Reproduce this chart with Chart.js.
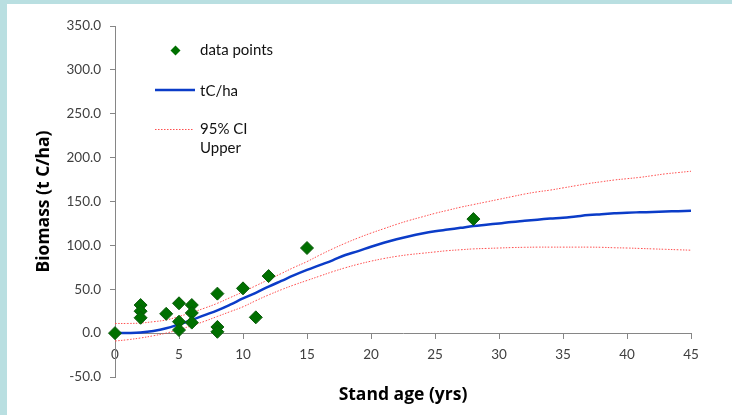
<!DOCTYPE html>
<html>
<head>
<meta charset="utf-8">
<script src="https://cdn.jsdelivr.net/npm/chart.js@4.4.1/dist/chart.umd.min.js"></script>
<style>
  html, body { margin: 0; padding: 0; background: #b9dfe1; }
  #wrap { position: absolute; left: 7px; top: 4px; width: 725px; height: 411px; background: #fff; }
</style>
</head>
<body>
<div id="wrap"><canvas id="chart" width="725" height="411"></canvas></div>
<script>
// observed plots
const pointAges    = [0, 2, 2, 2, 4, 5, 5, 5, 6, 6, 6, 8, 8, 8, 10, 11, 12, 15, 28];
const pointBiomass = [0, 32, 25, 17.5, 22, 34, 13, 3.5, 32, 23, 12, 45, 7, 1.5, 51, 18, 65, 97, 130];

// fitted curve and its confidence band, one value per year of age
const curveAges = [0, 1, 2, 3, 4, 5, 6, 7, 8, 9, 10, 11, 12, 13, 14, 15, 16, 17, 18, 19, 20, 21, 22,
  23, 24, 25, 26, 27, 28, 29, 30, 31, 32, 33, 34, 35, 36, 37, 38, 39, 40, 41, 42, 43, 44, 45];
const tcPerHa = [0, 0.2, 0.8, 2.5, 5.5, 10, 15, 20.5, 26, 32.5, 39.5, 46, 53, 59.5, 66, 72, 77.5, 83,
  89, 93.5, 98.5, 103, 107, 110.5, 113.5, 116, 118, 120, 122, 123.5, 125, 126.7, 128, 129.3, 130.5,
  131.5, 133, 134.5, 135.5, 136.5, 137.3, 137.7, 138, 138.5, 139, 139.5];
const ciUpper = [11, 11, 11.5, 13, 15, 19, 23.5, 28.5, 34, 40.5, 47, 54, 61, 68, 75, 81.5, 89, 96,
  102.5, 108.5, 114, 119, 124, 128.5, 132.5, 136.5, 140, 143.5, 146.5, 149.5, 152.5, 155.5, 158.5,
  161, 163, 165.5, 168, 170.5, 172.5, 174.5, 176, 177.5, 179.5, 181.5, 183, 184.5];
const ciLower = [-9, -7.5, -5.5, -3, 0, 4, 8.5, 13.5, 19, 24.5, 30, 37, 43.5, 49.5, 55, 60, 65, 70,
  74.5, 78.5, 82, 85, 87.5, 89.5, 91, 92.5, 94, 95, 96, 96.5, 97, 97.5, 97.8, 98, 98, 98, 98, 98,
  97.8, 97.3, 97, 96.5, 96, 95.5, 95, 94.5];

const xTitle = 'Stand age (yrs)';
const yTitle = 'Biomass (t C/ha)';

const GREEN = '#007000';
const BLUE = '#0b3cc8';
const RED = 'rgba(255, 70, 70, 0.95)';
const AXIS = '#868686';
const TICK_TEXT = '#404040';

function toXY(xs, ys) {
  return xs.map((x, i) => ({ x: x, y: ys[i] }));
}

// titles and the in-plot legend are drawn by hand to sit where the original has them
const decorations = {
  id: 'decorations',
  afterDraw(chart) {
    const ctx = chart.ctx;
    const area = chart.chartArea;
    ctx.save();
    ctx.fillStyle = '#000';
    ctx.font = 'bold 17.5px "Open Sans"';
    ctx.textAlign = 'center';
    ctx.textBaseline = 'middle';
    ctx.fillText(xTitle, (area.left + area.right) / 2, 391);
    ctx.translate(37, (area.top + area.bottom) / 2);
    ctx.rotate(-Math.PI / 2);
    ctx.fillText(yTitle, 0, 0);
    ctx.restore();

    // legend
    ctx.save();
    ctx.font = '15px Lato';
    ctx.textAlign = 'left';
    ctx.textBaseline = 'middle';

    ctx.fillStyle = GREEN;
    ctx.beginPath();
    ctx.moveTo(168.5, 41.5);
    ctx.lineTo(173.5, 46.5);
    ctx.lineTo(168.5, 51.5);
    ctx.lineTo(163.5, 46.5);
    ctx.closePath();
    ctx.fill();
    ctx.fillStyle = '#111';
    ctx.fillText('data points', 193, 46);

    ctx.strokeStyle = BLUE;
    ctx.lineWidth = 2.5;
    ctx.beginPath();
    ctx.moveTo(148, 86);
    ctx.lineTo(188, 86);
    ctx.stroke();
    ctx.fillText('tC/ha', 193, 87);

    ctx.strokeStyle = RED;
    ctx.lineWidth = 1;
    ctx.setLineDash([1.5, 1.5]);
    ctx.beginPath();
    ctx.moveTo(148, 125.5);
    ctx.lineTo(186, 125.5);
    ctx.stroke();
    ctx.setLineDash([]);
    ctx.fillText('95% CI', 193, 125);
    ctx.fillText('Upper', 193, 144);
    ctx.restore();
  }
};

// Chart.js paints the first dataset on top, so the diamonds come first
new Chart(document.getElementById('chart'), {
  type: 'scatter',
  data: {
    datasets: [
      {
        label: 'data points',
        data: toXY(pointAges, pointBiomass),
        pointStyle: 'rectRot',
        pointRadius: 6.5,
        backgroundColor: GREEN,
        borderColor: '#0a5a0a',
        borderWidth: 1,
        clip: false
      },
      {
        label: 'tC/ha',
        type: 'line',
        data: toXY(curveAges, tcPerHa),
        borderColor: BLUE,
        borderWidth: 2.5,
        pointRadius: 0,
        tension: 0.4,
        fill: false,
        clip: false
      },
      {
        label: '95% CI Upper',
        type: 'line',
        data: toXY(curveAges, ciUpper),
        borderColor: RED,
        borderWidth: 1,
        borderDash: [1.5, 1.5],
        pointRadius: 0,
        tension: 0.4,
        fill: false,
        clip: false
      },
      {
        label: '95% CI Lower',
        type: 'line',
        data: toXY(curveAges, ciLower),
        borderColor: RED,
        borderWidth: 1,
        borderDash: [1.5, 1.5],
        pointRadius: 0,
        tension: 0.4,
        fill: false,
        clip: false
      }
    ]
  },
  options: {
    responsive: false,
    animation: false,
    layout: { padding: { top: 22, right: 41, bottom: 38, left: 0 } },
    plugins: {
      legend: { display: false },
      tooltip: { enabled: false }
    },
    scales: {
      x: {
        type: 'linear',
        position: { y: 0 },
        min: 0,
        max: 45,
        ticks: { stepSize: 5, color: TICK_TEXT, font: { family: 'Lato', size: 13.5 }, padding: 8 },
        grid: { drawOnChartArea: false, tickLength: 5, color: AXIS },
        border: { color: AXIS }
      },
      y: {
        type: 'linear',
        position: 'left',
        min: -50,
        max: 350,
        ticks: {
          stepSize: 50,
          color: TICK_TEXT,
          font: { family: 'Lato', size: 13.5 },
          padding: 9,
          callback: v => v.toFixed(1)
        },
        grid: { drawOnChartArea: false, tickLength: 5, color: AXIS },
        border: { color: AXIS },
        afterFit: scale => { scale.width = 108; }
      }
    }
  },
  plugins: [decorations]
});
</script>
</body>
</html>
